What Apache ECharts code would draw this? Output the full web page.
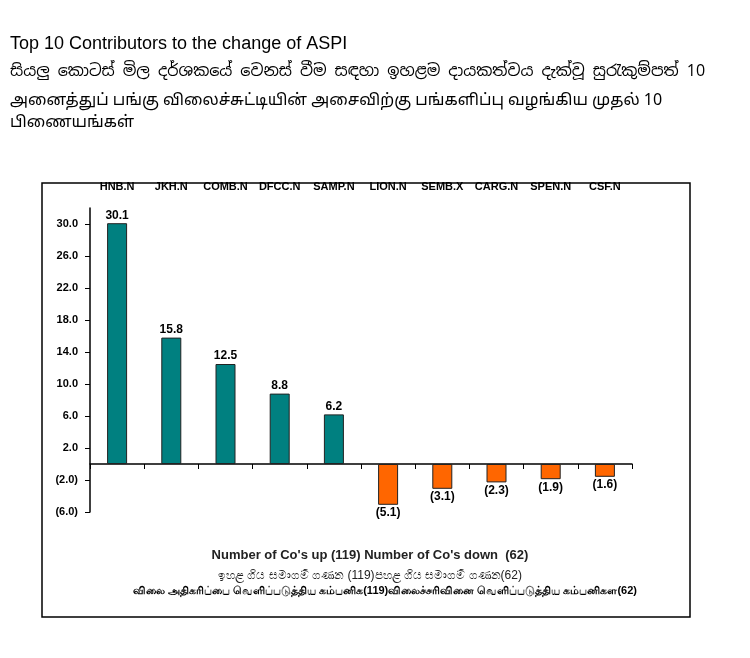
<!DOCTYPE html>
<html><head><meta charset="utf-8">
<script src="https://cdn.jsdelivr.net/npm/echarts@6/dist/echarts.min.js"></script>
<style>body{margin:0;background:#fff}#c{width:750px;height:658px}</style>
</head><body><div id="c"></div>
<script>
const categories = ['HNB.N','JKH.N','COMB.N','DFCC.N','SAMP.N','LION.N','SEMB.X','CARG.N','SPEN.N','CSF.N'];
const values = [30.1, 15.8, 12.5, 8.8, 6.2, -5.1, -3.1, -2.3, -1.9, -1.6];
const tickValues = [-6, -2, 2, 6, 10, 14, 18, 22, 26, 30];
const titleEn = 'Top 10 Contributors to the change of ASPI';
const titleSi = 'සියලු කොටස් මිල දර්ශකයේ වෙනස් වීම සඳහා ඉහළම දායකත්වය දැක්වූ සුරැකුම්පත් 10';
const titleTa = 'அனைத்துப் பங்கு விலைச்சுட்டியின் அசைவிற்கு பங்களிப்பு வழங்கிய முதல் 10';
const titleTa2 = 'பிணையங்கள்';
const footEn = "Number of Co's up (119) Number of Co's down  (62)";
const footSi = 'ඉහළ ගිය සමාගම් ගණන (119)පහළ ගිය සමාගම් ගණන(62)';
const footTa = 'விலை அதிகரிப்பை வெளிப்படுத்திய கம்பனிக(119)விலைச்சரிவினை வெளிப்படுத்திய கம்பனிகள(62)';

const fmt = v => v < 0 ? '(' + Math.abs(v).toFixed(1) + ')' : v.toFixed(1);
const chart = echarts.init(document.getElementById('c'));
const F = 'Arial, "Liberation Sans", "Noto Sans", sans-serif';
chart.setOption({
  animation: false,
  grid: {left: 90, right: 118, top: 208, bottom: 146},
  xAxis: [
    {type: 'category', data: categories, position: 'bottom',
     axisLine: {onZeroAxisIndex: 0, lineStyle: {color: '#000', width: 1.5}},
     axisTick: {show: true, interval: 0, lineStyle: {color: '#000'}}, axisLabel: {show: false}},
    {type: 'category', data: categories, position: 'top', offset: 8,
     axisLine: {show: false}, axisTick: {show: false},
     axisLabel: {interval: 0, color: '#000', fontFamily: F, fontWeight: 'bold', fontSize: 11}}
  ],
  yAxis: {type: 'value', min: -6, max: 32,
    splitLine: {show: false},
    axisLine: {show: true, lineStyle: {color: '#000', width: 1.5}},
    axisTick: {show: true, customValues: tickValues, lineStyle: {color: '#000'}},
    axisLabel: {customValues: tickValues, formatter: fmt, color: '#000', fontFamily: F, fontWeight: 'bold', fontSize: 11, margin: 12}},
  series: [{type: 'bar', xAxisIndex: 0, barWidth: 20,
    data: values.map(v => ({value: v, itemStyle: {color: v >= 0 ? '#008080' : '#ff6600', borderColor: '#222', borderWidth: 1}})),
    label: {show: true, position: 'outside', distance: 2, formatter: p => fmt(p.value), color: '#000', fontFamily: F, fontWeight: 'bold', fontSize: 12}}],
  graphic: [
    {type: 'rect', shape: {x: 42, y: 183, width: 648, height: 434}, style: {fill: 'none', stroke: '#000', lineWidth: 1.5}, z: -1},
    {type: 'text', left: 10, top: 35, style: {text: titleEn, font: '18px ' + F, fill: '#000'}},
    {type: 'text', left: 10, top: 64, style: {text: titleSi, font: '16px "Noto Sans Sinhala", ' + F, fill: '#000'}},
    {type: 'text', left: 10, top: 94, style: {text: titleTa, font: '16px "Noto Sans Tamil", ' + F, fill: '#000'}},
    {type: 'text', left: 10, top: 116, style: {text: titleTa2, font: '16px "Noto Sans Tamil", ' + F, fill: '#000'}},
    {type: 'text', x: 370, y: 549, style: {text: footEn, font: 'bold 13px ' + F, fill: '#222', align: 'center'}},
    {type: 'text', x: 370, y: 570, style: {text: footSi, font: '12px ' + F, fill: '#222', align: 'center'}},
    {type: 'text', x: 385, y: 585, style: {text: footTa, font: 'bold 11px ' + F, fill: '#000', align: 'center'}}
  ]
});
</script></body></html>
